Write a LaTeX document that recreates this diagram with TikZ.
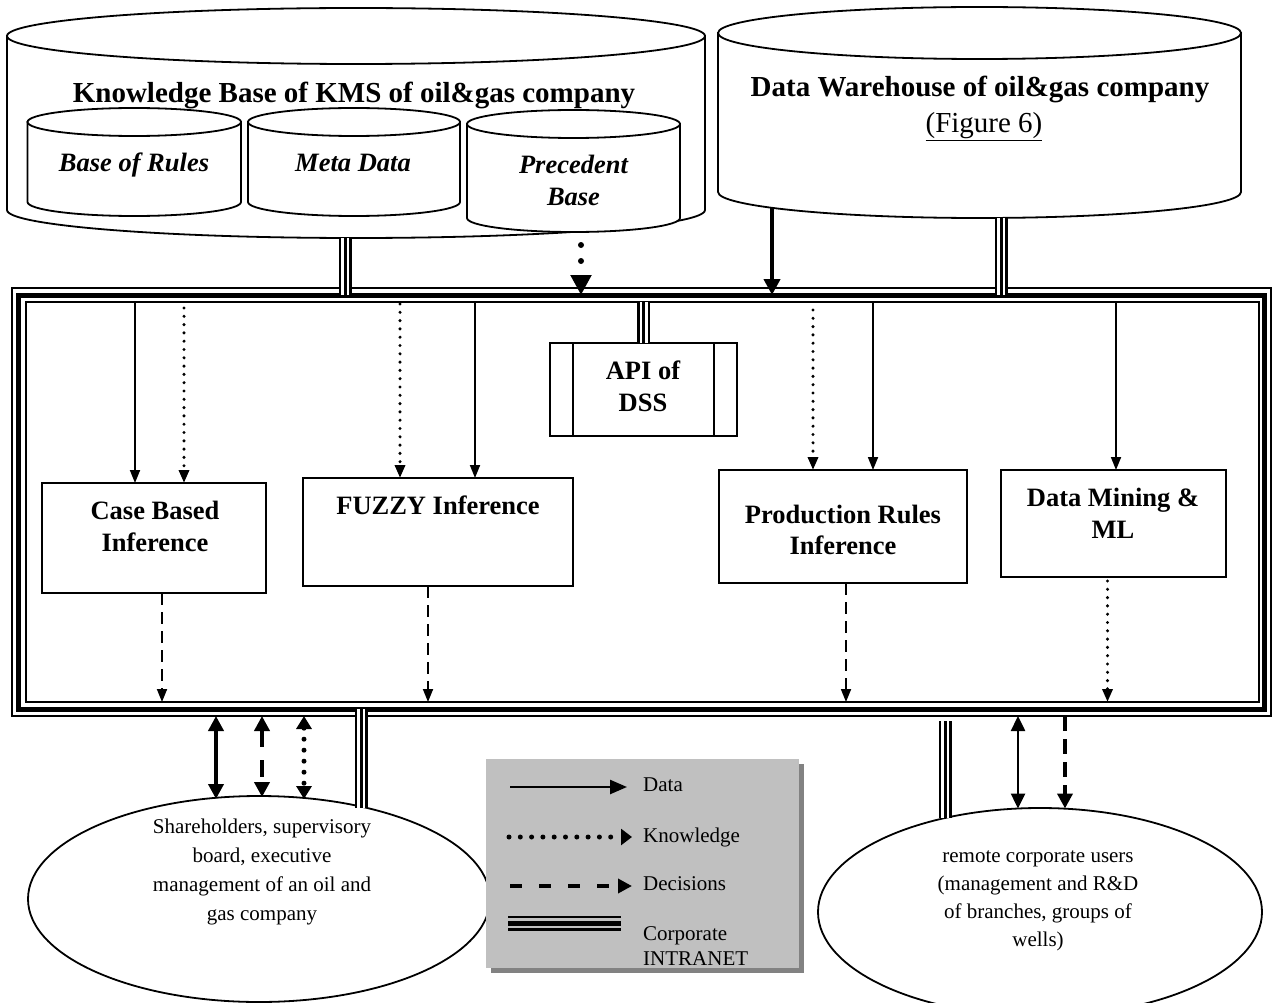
\documentclass[tikz,border=0pt]{standalone}
\usepackage{fontspec}
\setmainfont{Liberation Serif}
\usetikzlibrary{arrows.meta,calc,shapes.geometric}
\definecolor{leggray}{RGB}{192,192,192}
\definecolor{shadgray}{RGB}{130,130,130}
\newcommand\drawcyl[5]{%
  \pgfmathsetmacro\cylrx{(#2-#1)/2}%
  \pgfmathsetmacro\cylcx{(#1+#2)/2}%
  \filldraw[fill=white, line width=1.8pt] (#1,#3) -- (#1,#4) arc[start angle=180, end angle=0, x radius=\cylrx, y radius=#5] -- (#2,#3) -- cycle;
  \filldraw[fill=white, line width=1.8pt] (\cylcx,#3) ellipse[x radius=\cylrx, y radius=#5];
}
\tikzset{
  bx/.style={draw, line width=1.8pt, fill=white, inner sep=0pt, outer sep=0pt},
  btxt/.style={font=\fontsize{26.5}{31}\selectfont\bfseries, anchor=base, inner sep=0pt},
  itxt/.style={font=\fontsize{26.5}{31}\selectfont\bfseries\itshape, anchor=base, inner sep=0pt},
  ttxt/.style={font=\fontsize{29}{34}\selectfont\bfseries, anchor=base, inner sep=0pt},
  ftxt/.style={font=\fontsize{29}{34}\selectfont, anchor=base, inner sep=0pt},
  etxt/.style={font=\fontsize{21}{25}\selectfont, anchor=base, inner sep=0pt},
  ltxt/.style={font=\fontsize{21}{25}\selectfont, anchor=base west, inner sep=0pt},
  dataar/.style={line width=1.8pt, -{Triangle[length=13pt,width=10pt]}},
  knowar/.style={line width=3.4pt, line cap=round, dash pattern=on 0pt off 8.3pt, -{Triangle[length=13pt,width=10pt]}},
  decar/.style={line width=1.8pt, dash pattern=on 12pt off 7pt, -{Triangle[length=13pt,width=10pt]}},
  intr/.style={line width=13pt, postaction={draw=white, line width=8pt}, postaction={draw=black, line width=3pt}},
  bigdot/.style={line width=6pt, line cap=round, dash pattern=on 0pt off 16pt, -{Triangle[length=20pt,width=20pt]}},
  thickar/.style={line width=4.5pt, -{Triangle[length=16pt,width=16pt]}},
  dblsolid/.style={line width=4.5pt, {Triangle[length=15pt,width=15pt]}-{Triangle[length=15pt,width=15pt]}},
  dbldash/.style={line width=4.5pt, dash pattern=on 17pt off 13pt, {Triangle[length=15pt,width=15pt]}-{Triangle[length=15pt,width=15pt]}},
  dbldot/.style={line width=5pt, line cap=round, dash pattern=on 0pt off 11pt, {Triangle[length=13pt,width=15pt]}-{Triangle[length=13pt,width=15pt]}},
  dblthin/.style={line width=2.5pt, {Triangle[length=15pt,width=14pt]}-{Triangle[length=15pt,width=14pt]}},
  thickdash/.style={line width=4.5pt, dash pattern=on 15pt off 8pt, -{Triangle[length=15pt,width=15pt]}},
  lgdata/.style={line width=2.5pt, -{Triangle[length=17pt,width=14pt]}},
  lgknow/.style={line width=5pt, line cap=round, dash pattern=on 0pt off 11.3pt, -{Triangle[length=11pt,width=16pt]}},
  lgdec/.style={line width=4pt, dash pattern=on 12pt off 17pt, -{Triangle[length=14pt,width=14pt]}},
  lgintr/.style={line width=15pt, postaction={draw=leggray, line width=10pt}, postaction={draw=black, line width=5pt}},
}
\begin{document}
\begin{tikzpicture}[x=1pt,y=-1pt]
\useasboundingbox (0,0) rectangle (1274,1003);
\fill[white] (0,0) rectangle (1274,1003);

% Knowledge base cylinder and its parts
\drawcyl{7}{705}{36}{210}{28}
\node[ttxt] (kbt) at (354,103) {Knowledge Base of KMS of oil\&gas company};
\drawcyl{27.5}{241}{122}{202}{14}
\drawcyl{248}{460}{122}{202}{14}
\drawcyl{467}{680}{124}{218}{14}
\node[itxt] (bor) at (134,172) {Base of Rules};
\node[itxt] (meta) at (353,172) {Meta Data};
\node[itxt] (prec1) at (573.5,174) {Precedent};
\node[itxt] (prec2) at (573.5,206) {Base};

% Data warehouse cylinder
\drawcyl{718}{1241}{33}{192}{26}
\node[ttxt] (dwt) at (980,97) {Data Warehouse of oil\&gas company};
\node[ftxt] (fig) at (984,133) {\underline{(Figure 6)}};

% frame
\node[draw, line width=2pt, minimum width=1259pt, minimum height=428pt, anchor=north west, inner sep=0pt, outer sep=0pt] (outer) at (12,288) {};
\node[draw, line width=5pt, minimum width=1246pt, minimum height=414pt, anchor=north west, inner sep=0pt, outer sep=0pt] (mid) at (18.5,295) {};
\node[draw, line width=2pt, minimum width=1233pt, minimum height=400pt, anchor=north west, inner sep=0pt, outer sep=0pt] (inner) at (25.5,302) {};

% connectors from the stores
\coordinate (kbb) at (345,238);
\coordinate (pbb) at (581,233);
\coordinate (dwa) at (772,208);
\coordinate (dwb) at (1001,218);
\draw[intr] (kbb) -- (kbb |- mid.north);
\draw[bigdot] ($(pbb)+(0,12)$) -- (pbb |- mid.north);
\draw[thickar] (dwa) -- (dwa |- mid.north);
\draw[intr] (dwb) -- (dwb |- mid.north);

% API
\node[bx, minimum width=187pt, minimum height=93pt] (api) at (643.5,389.5) {};
\draw[line width=1.8pt] ($(api.north west)+(23,0)$) -- ($(api.south west)+(23,0)$);
\draw[line width=1.8pt] ($(api.north east)+(-23,0)$) -- ($(api.south east)+(-23,0)$);
\node[btxt] (api1) at (643,379) {API of};
\node[btxt] (api2) at (643,411) {DSS};
\draw[intr] (api.north) -- (api.north |- inner.north);

% inference boxes
\node[bx, minimum width=224pt, minimum height=110pt] (cbi) at (154,538) {};
\node[bx, minimum width=270pt, minimum height=108pt] (fuz) at (438,532) {};
\node[bx, minimum width=248pt, minimum height=113pt] (pri) at (843,526.5) {};
\node[bx, minimum width=225pt, minimum height=107pt] (dm) at (1113.5,523.5) {};
\node[btxt] (cbi1) at (155,519) {Case Based};
\node[btxt] (cbi2) at (155,551) {Inference};
\node[btxt] (fuz1) at (438,514) {FUZZY Inference};
\node[btxt] (pri1) at (843,523) {Production Rules};
\node[btxt] (pri2) at (843,554) {Inference};
\node[btxt] (dm1) at (1113,506) {Data Mining \&};
\node[btxt] (dm2) at (1113,538) {ML};

% arrows inside the frame
\coordinate (c1) at ($(cbi.north)+(-19,0)$);
\coordinate (c2) at ($(cbi.north)+(30,0)$);
\coordinate (c3) at ($(fuz.north)+(-38,0)$);
\coordinate (c4) at ($(fuz.north)+(37,0)$);
\coordinate (c5) at ($(pri.north)+(-30,0)$);
\coordinate (c6) at ($(pri.north)+(30,0)$);
\coordinate (c7) at ($(dm.north)+(2.5,0)$);
\draw[dataar] (c1 |- inner.north) -- (c1);
\draw[knowar] ($(c2 |- inner.north)+(0,6)$) -- (c2);
\draw[knowar] ($(c3 |- inner.north)+(0,2)$) -- (c3);
\draw[dataar] (c4 |- inner.north) -- (c4);
\draw[knowar] ($(c5 |- inner.north)+(0,8)$) -- (c5);
\draw[dataar] (c6 |- inner.north) -- (c6);
\draw[dataar] (c7 |- inner.north) -- (c7);
\coordinate (d1) at ($(cbi.south)+(8,0)$);
\coordinate (d2) at ($(fuz.south)+(-10,0)$);
\coordinate (d3) at ($(pri.south)+(3,0)$);
\coordinate (d4) at ($(dm.south)+(-6,0)$);
\draw[decar] (d1) -- (d1 |- inner.south);
\draw[decar] (d2) -- (d2 |- inner.south);
\draw[decar] (d3) -- (d3 |- inner.south);
\draw[knowar] ($(d4)+(0,4)$) -- (d4 |- inner.south);

% user ellipses
\node[draw, ellipse, line width=1.8pt, fill=white, minimum width=462pt, minimum height=206pt, inner sep=0pt, outer sep=0pt] (shl) at (259,899) {};
\node[draw, ellipse, line width=1.8pt, fill=white, minimum width=444pt, minimum height=208pt, inner sep=0pt, outer sep=0pt] (rcu) at (1040,912) {};
\node[etxt] (s1) at (262,833) {Shareholders, supervisory};
\node[etxt] (s2) at (262,862) {board, executive};
\node[etxt] (s3) at (262,891) {management of an oil and};
\node[etxt] (s4) at (262,920) {gas company};
\node[etxt] (r1) at (1038,862) {remote corporate users};
\node[etxt] (r2) at (1038,890) {(management and R\&D};
\node[etxt] (r3) at (1038,918) {of branches, groups of};
\node[etxt] (r4) at (1038,946) {wells)};

% connectors below the frame
\coordinate (l1) at (216,799);
\coordinate (l2) at (262,797);
\coordinate (l3) at (304,799);
\coordinate (l4) at (361,808);
\draw[dblsolid] (l1 |- outer.south) -- (l1);
\draw[dbldash] (l2 |- outer.south) -- (l2);
\draw[dbldot] (l3 |- outer.south) -- (l3);
\draw[intr] (l4 |- mid.south) -- (l4);
\coordinate (q1) at (945,818);
\coordinate (q2) at (1018,808.5);
\coordinate (q3) at (1065,808.5);
\draw[intr] ($(q1 |- outer.south)+(0,5)$) -- (q1);
\draw[dblthin] (q2 |- outer.south) -- (q2);
\draw[thickdash] (q3 |- outer.south) -- (q3);

% legend
\coordinate (legnw) at (486,759);
\fill[shadgray] ($(legnw)+(5,5)$) rectangle ($(legnw)+(318,214)$);
\node[fill=leggray, minimum width=313pt, minimum height=209pt, anchor=north west, inner sep=0pt, outer sep=0pt] (leg) at (legnw) {};
\coordinate (la1) at (510,787); \coordinate (la2) at (627,787);
\coordinate (lb1) at (509,837); \coordinate (lb2) at (632,837);
\coordinate (lc1) at (510,886); \coordinate (lc2) at (632,886);
\coordinate (ld1) at (508,923); \coordinate (ld2) at (621,923);
\draw[lgdata] (la1) -- (la2);
\draw[lgknow] (lb1) -- (lb2);
\draw[lgdec] (lc1) -- (lc2);
\draw[lgintr] (ld1) -- (ld2);
\node[ltxt] (lt1) at (643,791) {Data};
\node[ltxt] (lt2) at (643,842) {Knowledge};
\node[ltxt] (lt3) at (643,890) {Decisions};
\node[ltxt] (lt4) at (643,940) {Corporate};
\node[ltxt] (lt5) at (643,965) {INTRANET};
\end{tikzpicture}
\end{document}
